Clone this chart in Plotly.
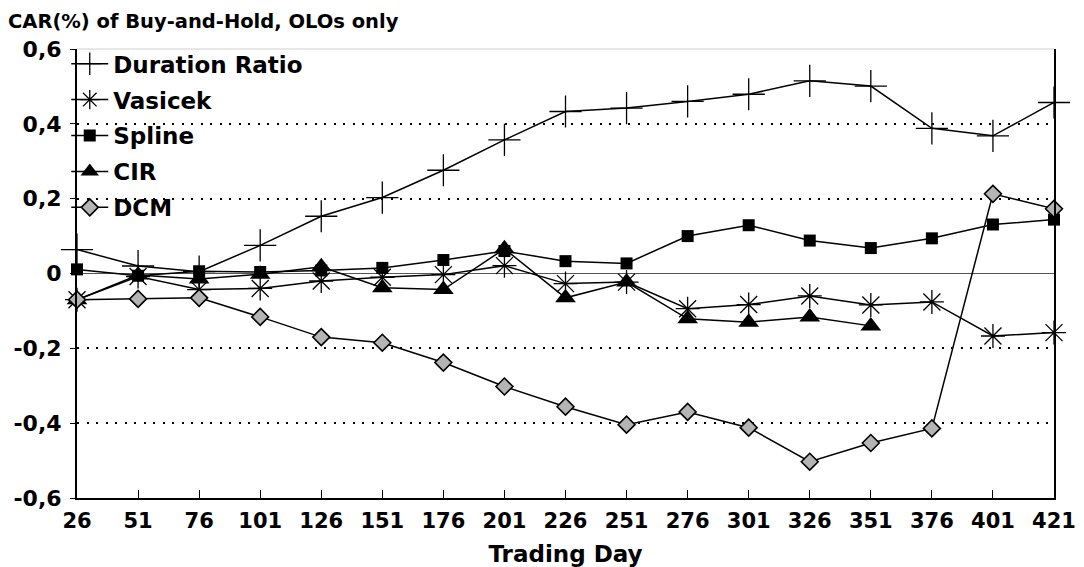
import plotly.graph_objects as go

# Trading-day checkpoints (evenly spaced categories)
trading_day = ["26", "51", "76", "101", "126", "151", "176", "201", "226",
               "251", "276", "301", "326", "351", "376", "401", "421"]

# Cumulative abnormal returns (%) per term-structure model
duration_ratio = [0.064, 0.020, 0.005, 0.075, 0.153, 0.203, 0.276, 0.357, 0.433,
                  0.442, 0.460, 0.479, 0.515, 0.501, 0.388, 0.368, 0.457]
vasicek = [-0.070, -0.008, -0.043, -0.040, -0.020, -0.010, -0.003, 0.021, -0.027,
           -0.023, -0.094, -0.083, -0.060, -0.084, -0.076, -0.167, -0.158]
spline = [0.011, -0.006, 0.006, 0.004, 0.008, 0.015, 0.036, 0.060, 0.033,
          0.027, 0.100, 0.129, 0.088, 0.068, 0.094, 0.131, 0.144]
cir = [-0.070, -0.004, -0.015, -0.002, 0.018, -0.038, -0.043, 0.066, -0.065,
       -0.023, -0.121, -0.130, -0.116, -0.140, None, None, None]
dcm = [-0.070, -0.068, -0.065, -0.116, -0.170, -0.185, -0.238, -0.302, -0.356,
       -0.404, -0.370, -0.412, -0.503, -0.453, -0.414, 0.213, 0.173]

y_ticks = [-0.6, -0.4, -0.2, 0, 0.2, 0.4, 0.6]
y_tick_text = ["-0,6", "-0,4", "-0,2", "0", "0,2", "0,4", "0,6"]

FONT = "DejaVu Sans"
BLACK = "#000000"

series = [
    ("Duration Ratio", duration_ratio,
     dict(symbol="cross-thin-open", size=23, color=BLACK, line=dict(width=1.3, color=BLACK))),
    ("Vasicek", vasicek,
     dict(symbol="asterisk-open", size=20, color=BLACK, line=dict(width=1.3, color=BLACK))),
    ("Spline", spline,
     dict(symbol="square", size=12, color=BLACK, line=dict(width=0))),
    ("CIR", cir,
     dict(symbol="triangle-up", size=18, color=BLACK, line=dict(width=0))),
    ("DCM", dcm,
     dict(symbol="diamond", size=13, color="#b4b4b4", line=dict(width=1.6, color=BLACK))),
]

fig = go.Figure()
for name, values, marker in series:
    fig.add_trace(go.Scatter(
        x=trading_day, y=values, name=name, mode="lines+markers",
        line=dict(color=BLACK, width=1.5), marker=marker,
        cliponaxis=False, connectgaps=False, legendgroup=name,
    ))

fig.update_layout(
    width=1084, height=567,
    margin=dict(l=77, r=30, t=49, b=69, autoexpand=False),
    paper_bgcolor="white", plot_bgcolor="white",
    font=dict(family=FONT, color=BLACK),
    title=dict(text="CAR(%) of Buy-and-Hold, OLOs only",
               font=dict(family=FONT, size=19.5, weight="bold", color=BLACK),
               x=8 / 1084, xref="container", xanchor="left",
               y=1 - 21 / 567, yref="container", yanchor="middle"),
    showlegend=True,
    legend=dict(x=-0.011, y=1.015, xanchor="left", yanchor="top",
                bgcolor="rgba(0,0,0,0)", borderwidth=0,
                font=dict(family=FONT, size=23, weight="bold", color=BLACK),
                tracegroupgap=3, itemwidth=37),
    xaxis=dict(
        type="category", range=[0, len(trading_day) - 1], automargin=False,
        showgrid=False, zeroline=False,
        showline=True, linecolor=BLACK, linewidth=2, mirror=False,
        ticks="inside", ticklen=8, tickcolor=BLACK, tickwidth=1,
        tickfont=dict(family=FONT, size=21, weight="bold", color=BLACK),
        ticklabelstandoff=3,
        title=dict(text="Trading Day", standoff=23,
                   font=dict(family=FONT, size=23, weight="bold", color=BLACK)),
    ),
    yaxis=dict(
        range=[-0.6, 0.6], tickvals=y_ticks, ticktext=y_tick_text, automargin=False,
        showgrid=True, gridcolor=BLACK, gridwidth=1.6, griddash="2px,7.5px",
        zeroline=True, zerolinecolor="#555555", zerolinewidth=1,
        showline=True, linecolor=BLACK, linewidth=2, mirror=True,
        ticks="outside", ticklen=5, tickcolor=BLACK,
        tickfont=dict(family=FONT, size=22, weight="bold", color=BLACK),
        ticklabelstandoff=4,
    ),
    shapes=[dict(type="line", xref="paper", yref="paper", x0=0, x1=1, y0=1, y1=1,
                 line=dict(color="#d0d0d0", width=1), layer="above")],
)

fig.write_html("out.html")
